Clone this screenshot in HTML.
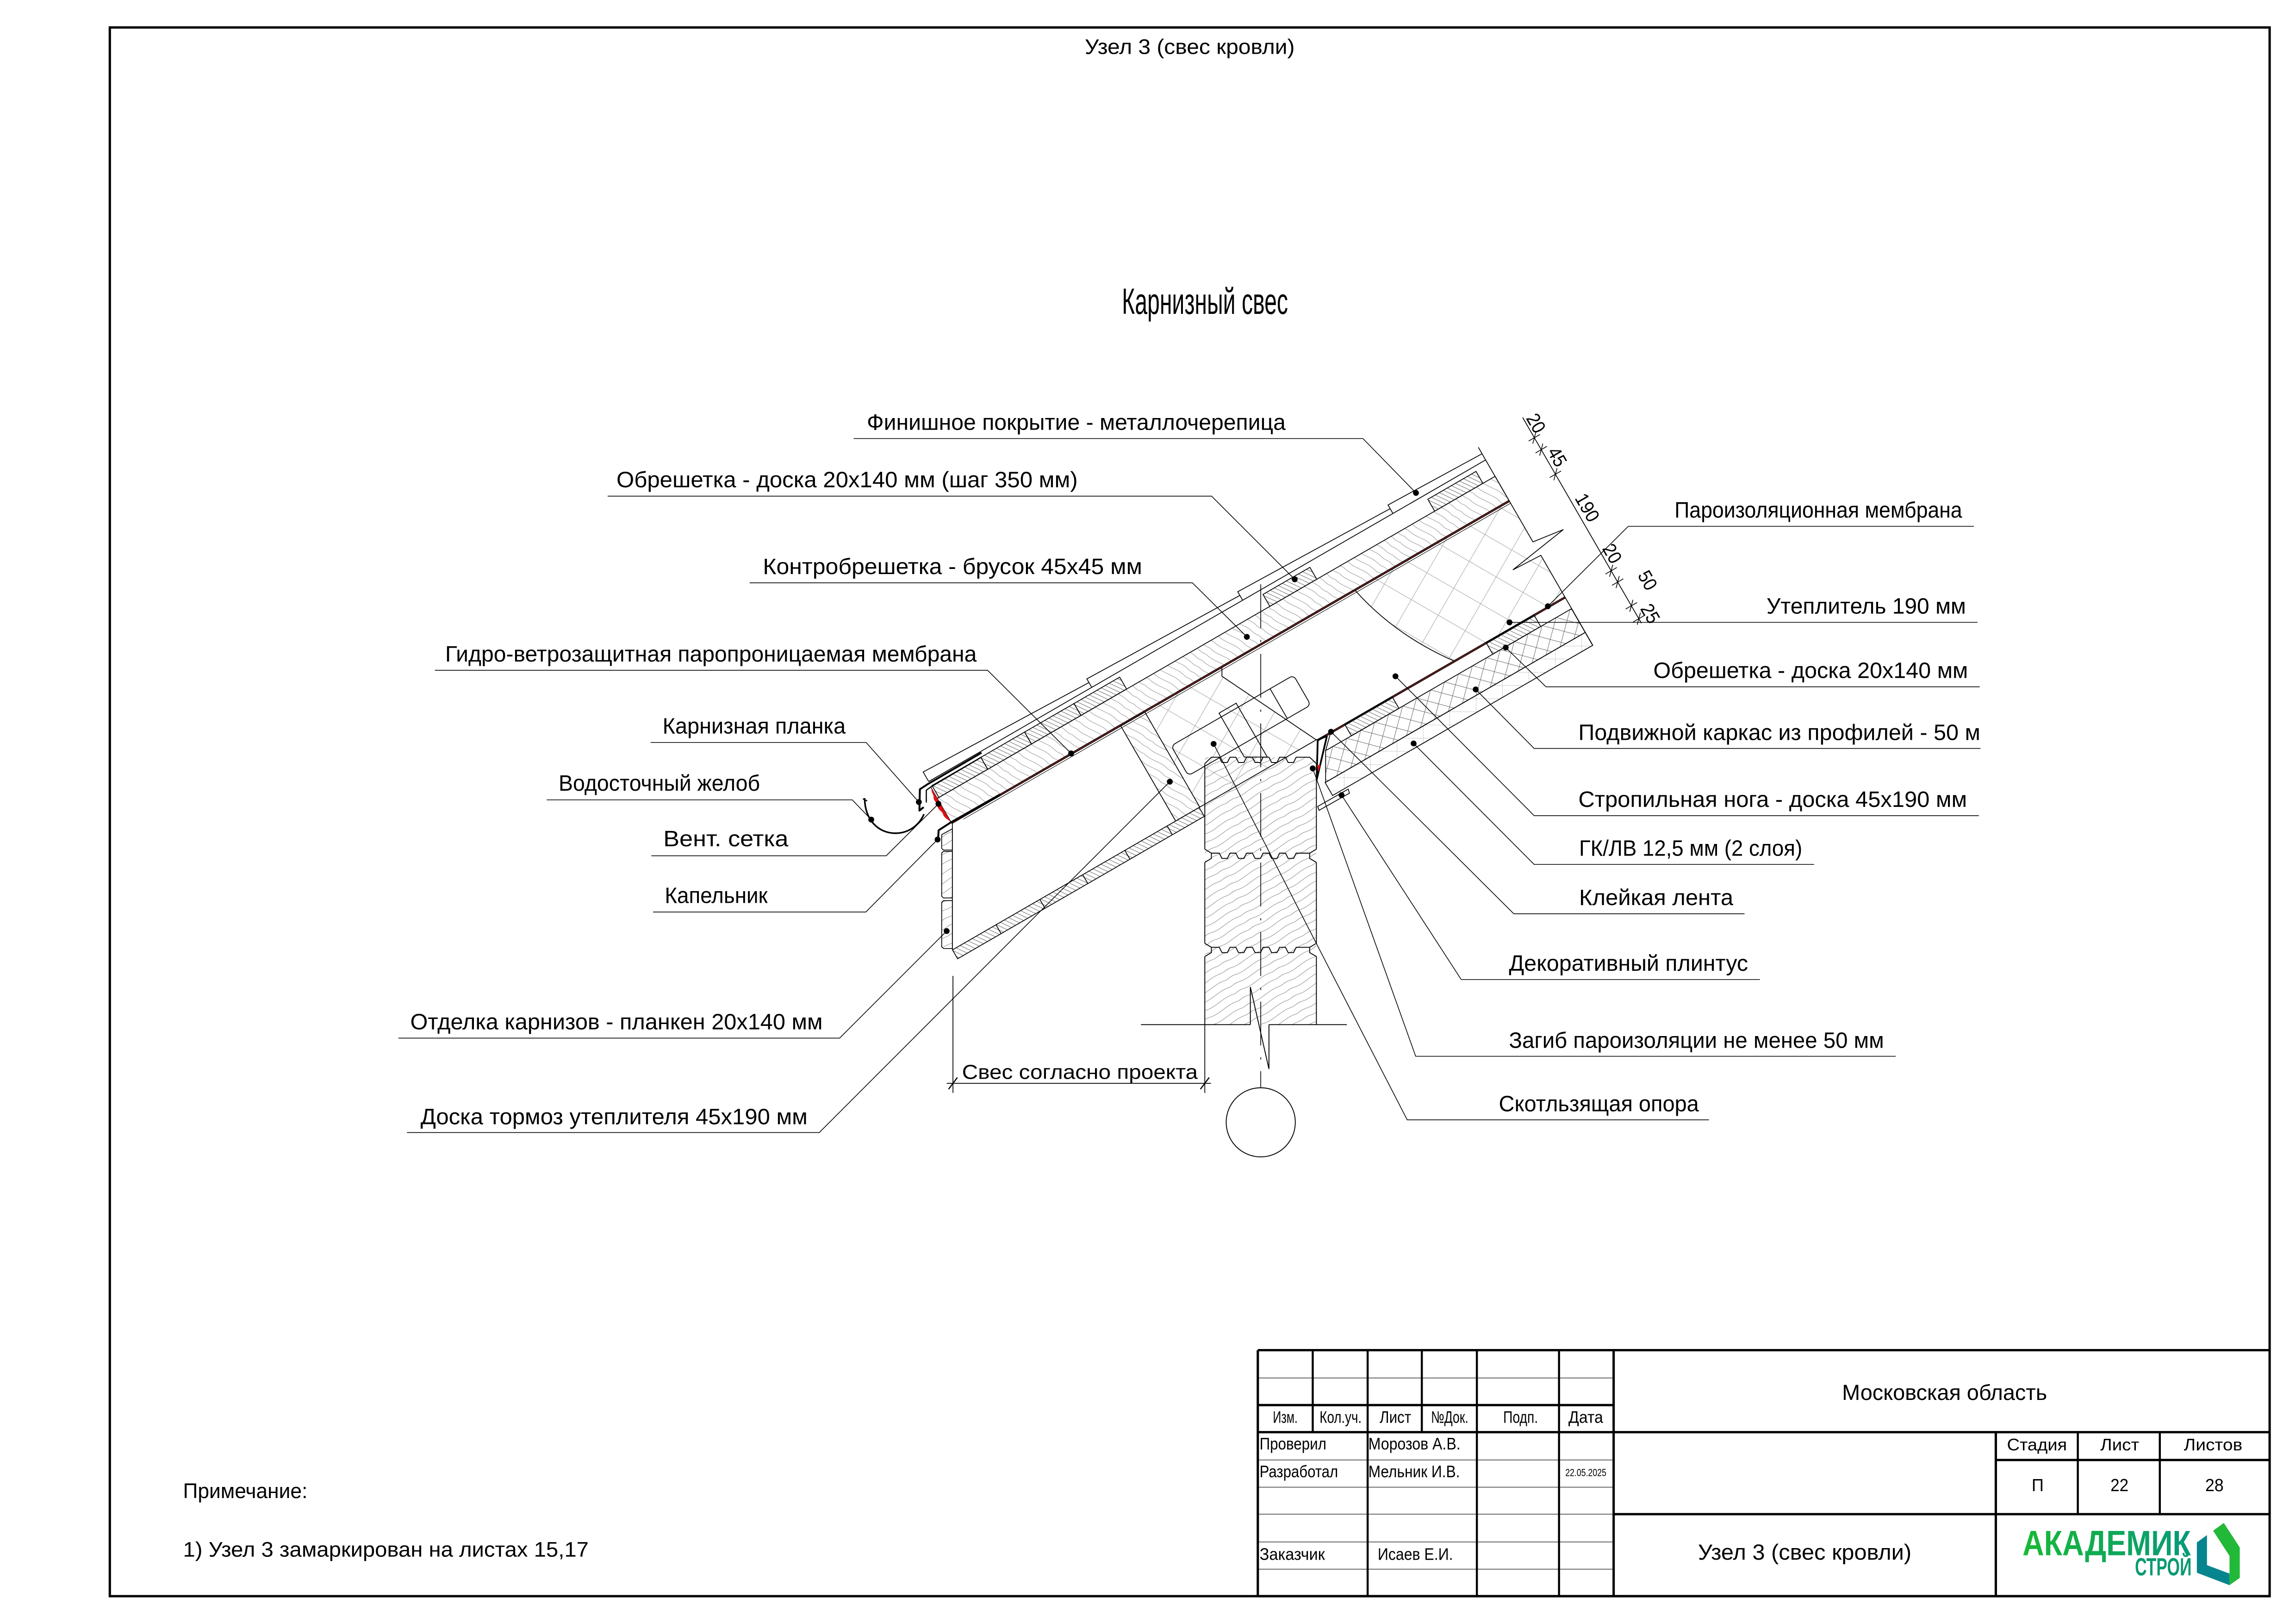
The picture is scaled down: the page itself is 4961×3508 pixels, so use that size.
<!DOCTYPE html>
<html><head><meta charset="utf-8">
<style>
html,body{margin:0;padding:0;background:#fff;}
svg{display:block;}
text{font-family:"Liberation Sans Narrow","Liberation Sans",sans-serif;fill:#000;}
</style></head><body>
<svg xmlns="http://www.w3.org/2000/svg" width="4961" height="3508" viewBox="0 0 1568 1109" preserveAspectRatio="none">
<defs>
<pattern id="ins" patternUnits="userSpaceOnUse" width="30" height="30" patternTransform="rotate(15)">
<path d="M0,0L30,30M30,0L0,30" stroke="#a6a6a6" stroke-width="0.35" fill="none"/>
</pattern>
<pattern id="frm" patternUnits="userSpaceOnUse" width="11" height="11">
<path d="M0,0L11,11M11,0L0,11" stroke="#555" stroke-width="0.3" fill="none"/>
</pattern>
<pattern id="gkl" patternUnits="userSpaceOnUse" width="18" height="9" patternTransform="rotate(30)">
<path d="M0,0H18M0,0V9" stroke="#9a9a9a" stroke-width="0.3" fill="none"/>
</pattern>
<pattern id="cb" patternUnits="userSpaceOnUse" width="5" height="24" patternTransform="rotate(-28)">
<path d="M2.5,0 C1,6 4,12 2.5,18 C1.6,21 3,23 2.5,24" stroke="#8a8a8a" stroke-width="0.3" fill="none"/>
</pattern>
<pattern id="lt" patternUnits="userSpaceOnUse" width="2.6" height="10" patternTransform="rotate(-35)">
<path d="M1.3,0V10" stroke="#555" stroke-width="0.3" fill="none"/>
</pattern>
<pattern id="wd" patternUnits="userSpaceOnUse" width="5.5" height="30" patternTransform="rotate(60)">
<path d="M2.7,0 C1,8 4.5,15 2.7,22 C1.8,26 3.2,28 2.7,30" stroke="#8c8c8c" stroke-width="0.33" fill="none"/>
</pattern>
<linearGradient id="lg" x1="0" x2="1" y1="0" y2="0">
<stop offset="0" stop-color="#18ba34"/><stop offset="1" stop-color="#07997a"/>
</linearGradient>
</defs>

<!-- Frame -->
<rect x="75" y="18.75" width="1475" height="1071.25" fill="none" stroke="#000" stroke-width="1.6"/>

<!-- Titles -->
<text x="740.8" y="36.9" font-size="14.5" textLength="143.4" lengthAdjust="spacingAndGlyphs">Узел 3 (свес кровли)</text>
<text x="766.2" y="214.4" font-size="25" textLength="113.4" lengthAdjust="spacingAndGlyphs">Карнизный свес</text>

<!-- ============ DRAWING ============ -->
<g transform="rotate(-30)">
<rect x="434" y="811.6" width="287.6" height="76.1" fill="url(#ins)" stroke="none"/>
</g>
<path d="M834.5,455.4 L925.3,403 Q953,434 993.3,451.5 L899,505.3 L834.5,461.8 Z" fill="#fff" stroke="none"/>
<path d="M925.3,403 Q953,434 993.3,451.5 M834.5,455.4 L834.5,461.8 L899,505.3" fill="none" stroke="#000" stroke-width="0.55"/>

<!-- wall logs -->
<rect x="822.8" y="517.1" width="76.2" height="182.6" fill="url(#wd)" stroke="none"/>
<g fill="none" stroke="#000" stroke-width="0.6">
<polyline points="822.8,521.5 827.3,517.1 832.7,517.1 834.5,520.7 838.2,520.7 840,517.1 844,517.1 845.8,520.7 849.5,520.7 851.3,517.1 855.3,517.1 857.1,520.7 860.8,520.7 862.6,517.1 866.6,517.1 868.4,520.7 872.1,520.7 873.9,517.1 877.9,517.1 879.7,520.7 883.4,520.7 885.2,517.1 894.4,517.1 899,521.5"/>
<polyline points="822.8,579.9 827.3,582.6 832.7,582.6 834.5,586.2 838.2,586.2 840,582.6 844,582.6 845.8,586.2 849.5,586.2 851.3,582.6 855.3,582.6 857.1,586.2 860.8,586.2 862.6,582.6 866.6,582.6 868.4,586.2 872.1,586.2 873.9,582.6 877.9,582.6 879.7,586.2 883.4,586.2 885.2,582.6 894.4,582.6 899,579.9"/>
<polyline points="822.8,588.9 827.3,586.2 827.3,582.6"/>
<polyline points="894.4,582.6 894.4,586.2 899,588.9"/>
<polyline points="822.8,644.2 827.3,646.9 832.7,646.9 834.5,650.5 838.2,650.5 840,646.9 844,646.9 845.8,650.5 849.5,650.5 851.3,646.9 855.3,646.9 857.1,650.5 860.8,650.5 862.6,646.9 866.6,646.9 868.4,650.5 872.1,650.5 873.9,646.9 877.9,646.9 879.7,650.5 883.4,650.5 885.2,646.9 894.4,646.9 899,644.2"/>
<polyline points="822.8,653.2 827.3,650.5 827.3,646.9"/>
<polyline points="894.4,646.9 894.4,650.5 899,653.2"/>
<path d="M822.8,521.5V579.9M822.8,588.9V644.2M822.8,653.2V699.7M899,521.5V579.9M899,588.9V644.2M899,653.2V699.7"/>
<path d="M779.2,699.7H853.9M866.6,699.7H919.8M853.9,674V699.7M853.9,674L866.6,730M866.6,699.7V730"/>
</g>

<!-- roof layers -->
<g transform="rotate(-30)" fill="none" stroke="#000" stroke-width="0.55">
<rect x="281.7" y="792.2" width="439.9" height="19.4" fill="url(#cb)"/>
<rect x="283" y="782.8" width="38.5" height="9.4" fill="url(#lt)"/>
<rect x="321.5" y="782.8" width="34.5" height="9.4" fill="url(#lt)"/>
<rect x="356" y="782.8" width="39" height="9.4" fill="url(#lt)"/>
<rect x="395" y="782.8" width="36" height="9.4" fill="url(#lt)"/>
<rect x="544" y="782.8" width="37" height="9.4" fill="url(#lt)"/>
<rect x="674" y="782.8" width="38" height="9.4" fill="url(#lt)"/>
<path d="M282.4,779.3H721.6M282.4,779.3V771.8L411,775.5M411,779.3V772.6L530,775.5M530,779.3V772.6L648.5,775.5M648.5,779.3V772.6L721.6,774.4"/>
<path d="M281.7,783.8V811.6"/>
<path d="M281.7,811.6H721.6" stroke="#000" stroke-width="1.5"/>
<path d="M281.7,811.6H721.6" stroke="#7a2323" stroke-width="0.6"/>
<path d="M290,813.4H721.6" stroke-width="0.35"/>
<path d="M433.5,887H526.6"/>
<rect x="239" y="887" width="194.5" height="7" fill="url(#lt)"/>
<path d="M273.3,887V894M307.9,887V894M341.7,887V894M374.9,887V894M408.3,887V894"/>
<rect x="415" y="812" width="19" height="75" fill="url(#cb)"/>
<path d="M526.6,887.7H721.6" stroke="#000" stroke-width="1.5"/>
<path d="M526.6,887.7H721.6" stroke="#7a2323" stroke-width="0.6"/>
<rect x="548" y="887.7" width="37.5" height="8.9" fill="url(#lt)"/>
<rect x="659.5" y="887.7" width="37.8" height="8.9" fill="url(#lt)"/>
<path d="M527.7,896.6H721.6V915.3H516.9Z" fill="url(#frm)"/>
<rect x="516.5" y="915.3" width="205.1" height="10.2" fill="url(#gkl)"/>
<rect x="438" y="841" width="96.5" height="23.5" rx="3"/>
<path d="M516,841V864.5"/>
<path d="M721.6,769.3V843.9L743.8,847L700.2,853.6L721.7,854.6V925.5"/>
<path d="M758,766.8V929"/>
<path d="M753.5,782.8H762.5M755,785.8L761,779.8M753.5,792.2H762.5M755,795.2L761,789.2M753.5,811.6H762.5M755,814.6L761,808.6M753.5,887.7H762.5M755,890.7L761,884.7M753.5,896.6H762.5M755,899.6L761,893.6M753.5,915.3H762.5M755,918.3L761,912.3M753.5,925.5H762.5M755,928.5L761,922.5" stroke-width="0.5"/>
</g>

<polygon points="832.5,487 844.2,480.2 865.5,517 849.8,517" fill="none" stroke="#000" stroke-width="0.55"/>

<g font-size="13">
<text transform="translate(1049,289) rotate(60)" text-anchor="middle" dominant-baseline="central" textLength="13" lengthAdjust="spacingAndGlyphs">20</text>
<text transform="translate(1063.5,312) rotate(60)" text-anchor="middle" dominant-baseline="central" textLength="13" lengthAdjust="spacingAndGlyphs">45</text>
<text transform="translate(1084,346.6) rotate(60)" text-anchor="middle" dominant-baseline="central" textLength="20" lengthAdjust="spacingAndGlyphs">190</text>
<text transform="translate(1101,378) rotate(60)" text-anchor="middle" dominant-baseline="central" textLength="13" lengthAdjust="spacingAndGlyphs">20</text>
<text transform="translate(1125.2,396.3) rotate(60)" text-anchor="middle" dominant-baseline="central" textLength="13" lengthAdjust="spacingAndGlyphs">50</text>
<text transform="translate(1127,419) rotate(60)" text-anchor="middle" dominant-baseline="central" textLength="13" lengthAdjust="spacingAndGlyphs">25</text>
</g>

<!-- fascia boards -->
<g stroke="#000" stroke-width="0.55" fill="url(#wd)">
<path d="M643.1,570 L650.4,566 L650.4,580.5 L644.3,580.5 L643.1,579.3 Z"/>
<path d="M643.1,582.5 L644.3,581.4 L650.4,581.4 L650.4,613.2 L644.3,613.2 L643.1,612 Z"/>
<path d="M643.1,616.3 L644.3,615 L650.4,615 L650.4,647.7 L644.3,647.7 L643.1,646.5 Z"/>
</g>
<path d="M650.4,561.7V648.7" stroke="#000" stroke-width="0.55" fill="none"/>

<!-- eave metal -->
<path d="M636.3,538.5 C635.6,541 637.8,542.5 637.6,544.5 C637.4,547 640.2,548 640.3,550.5 C640.4,553 643.6,554 644,556 C644.6,558.5 647.5,559.5 649.3,561.3 L636.3,538.5 Z" fill="#e01010" stroke="none"/>
<g fill="none" stroke="#000" stroke-linejoin="round">
<polyline points="670.3,514 633.2,535.7 628.2,539 627.9,553.5 630.8,551.2" stroke-width="1.3"/>
<polyline points="670.3,517 635.5,537.5 632.6,539.6 632.6,548" stroke-width="0.8"/>
<polyline points="683,542.5 649.5,561.5 641,567 640.6,574" stroke-width="1.3"/>
<path d="M590.5,545 C590.5,560 600,569 611.5,569 C621,569 628,563 631,556" stroke-width="1.1"/>
<path d="M589.3,545.5 L592.2,547" stroke-width="0.8"/>
</g>

<g fill="none" stroke="#000" stroke-width="1.2">
<path d="M899.9,505.3L899.2,532.5M906.2,502.6L899.2,532.5M899.9,505.3L906.2,502.6"/>
</g>
<path d="M905.3,512.6L908.5,501" stroke="#000" stroke-width="0.55" fill="none"/>
<polygon points="899.4,522.5 901.8,522.5 900.3,527" fill="#e01010"/>
<polygon points="899.9,550.7 920.7,538.9 921.6,541.6 900.8,553.4" fill="url(#wd)" stroke="#000" stroke-width="0.55"/>

<path d="M861,399V742.7" stroke="#000" stroke-width="0.5" stroke-dasharray="30 8 1.5 8" fill="none"/>
<circle cx="861" cy="766.4" r="23.6" fill="none" stroke="#000" stroke-width="0.6"/>

<g stroke="#000" stroke-width="0.55" fill="none">
<path d="M650.8,666.4V746.3M822.8,699.7V746.3M646.5,739.8H827"/>
<path d="M647.8,743.8L653.8,735.8M819.8,743.8L825.8,735.8" stroke-width="0.8"/>
</g>
<text x="657" y="736.8" font-size="13.7" textLength="161" lengthAdjust="spacingAndGlyphs">Свес согласно проекта</text>

<!-- ============ LEADERS & LABELS ============ -->
<g stroke="#000" stroke-width="0.5" fill="none">
<path d="M583,299.5H930.8L967,336.6"/>
<path d="M415,338.8H827.4L884.2,395.6"/>
<path d="M512,398H814.3L851.5,434.9"/>
<path d="M297,457.7H674.4L731.5,514.5"/>
<path d="M444.3,507H591.5L627.5,547.7"/>
<path d="M373.4,546.2H582L595,559.7"/>
<path d="M444.8,584.4H605.2L640.9,548.9"/>
<path d="M446,622.8H591.3L640.3,573.3"/>
<path d="M272.1,708.9H573.4L646.5,635.8"/>
<path d="M277.9,773.4H559.5L798.9,533.8"/>
<path d="M1348,359.4H1112L1057.1,414"/>
<path d="M1350.5,425H1030.9"/>
<path d="M1352,469H1055.8L1028.3,442.2"/>
<path d="M1352.5,511.1H1047.7L1007.8,470.8"/>
<path d="M1351.4,557H1047.7L953,461.8"/>
<path d="M1238.9,590.3H1047.7L965.4,507.7"/>
<path d="M1191.4,624H1033.8L909,499.7"/>
<path d="M1201.9,668.9H997.9L916.2,543"/>
<path d="M1294.6,721.3H966.8L896.5,524.7"/>
<path d="M1167.1,764.7H961L828.8,508"/>
</g>
<g fill="#000">
<circle cx="967" cy="336.6" r="2"/><circle cx="884.2" cy="395.6" r="2"/><circle cx="851.5" cy="434.9" r="2"/>
<circle cx="731.5" cy="514.5" r="2"/><circle cx="627.5" cy="547.7" r="2"/><circle cx="595" cy="559.7" r="2"/>
<circle cx="640.9" cy="548.9" r="2"/><circle cx="640.3" cy="573.3" r="2"/><circle cx="646.5" cy="635.8" r="2"/>
<circle cx="798.9" cy="533.8" r="2"/>
<circle cx="1057.1" cy="414" r="2"/><circle cx="1030.9" cy="425" r="2"/><circle cx="1028.3" cy="442.2" r="2"/>
<circle cx="1007.8" cy="470.8" r="2"/><circle cx="953" cy="461.8" r="2"/><circle cx="965.4" cy="507.7" r="2"/>
<circle cx="909" cy="499.7" r="2"/><circle cx="916.2" cy="543" r="2"/><circle cx="896.5" cy="524.7" r="2"/>
<circle cx="828.8" cy="508" r="2"/>
</g>
<g font-size="15.2">
<text x="592" y="293.5" textLength="286" lengthAdjust="spacingAndGlyphs">Финишное покрытие - металлочерепица</text>
<text x="421" y="332.8" textLength="315" lengthAdjust="spacingAndGlyphs">Обрешетка - доска 20х140 мм (шаг 350 мм)</text>
<text x="521" y="392" textLength="259" lengthAdjust="spacingAndGlyphs">Контробрешетка - брусок 45х45 мм</text>
<text x="304" y="451.7" textLength="363" lengthAdjust="spacingAndGlyphs">Гидро-ветрозащитная паропроницаемая мембрана</text>
<text x="452.5" y="500.9" textLength="125" lengthAdjust="spacingAndGlyphs">Карнизная планка</text>
<text x="381.5" y="540" textLength="137.5" lengthAdjust="spacingAndGlyphs">Водосточный желоб</text>
<text x="453" y="577.9" textLength="85.4" lengthAdjust="spacingAndGlyphs">Вент. сетка</text>
<text x="454" y="616.6" textLength="70.2" lengthAdjust="spacingAndGlyphs">Капельник</text>
<text x="280.2" y="702.9" textLength="281.6" lengthAdjust="spacingAndGlyphs">Отделка карнизов - планкен 20х140 мм</text>
<text x="287.2" y="767.8" textLength="264.3" lengthAdjust="spacingAndGlyphs">Доска тормоз утеплителя 45х190 мм</text>

<text x="1143.6" y="353.4" textLength="196.4" lengthAdjust="spacingAndGlyphs">Пароизоляционная мембрана</text>
<text x="1206.4" y="419" textLength="136.2" lengthAdjust="spacingAndGlyphs">Утеплитель 190 мм</text>
<text x="1129.1" y="463" textLength="214.9" lengthAdjust="spacingAndGlyphs">Обрешетка - доска 20х140 мм</text>
<text x="1077.9" y="505.3" textLength="274.5" lengthAdjust="spacingAndGlyphs">Подвижной каркас из профилей - 50 м</text>
<text x="1077.9" y="551" textLength="265.4" lengthAdjust="spacingAndGlyphs">Стропильная нога - доска 45х190 мм</text>
<text x="1078.4" y="584.3" textLength="152.4" lengthAdjust="spacingAndGlyphs">ГК/ЛВ 12,5 мм (2 слоя)</text>
<text x="1078.4" y="618" textLength="105.3" lengthAdjust="spacingAndGlyphs">Клейкая лента</text>
<text x="1030.5" y="663" textLength="163.3" lengthAdjust="spacingAndGlyphs">Декоративный плинтус</text>
<text x="1030.5" y="715.5" textLength="256.1" lengthAdjust="spacingAndGlyphs">Загиб пароизоляции не менее 50 мм</text>
<text x="1023.6" y="758.9" textLength="136.6" lengthAdjust="spacingAndGlyphs">Скотльзящая опора</text>
</g>

<text x="125" y="1023" font-size="14.5" textLength="85" lengthAdjust="spacingAndGlyphs">Примечание:</text>
<text x="125" y="1063" font-size="14.5" textLength="277" lengthAdjust="spacingAndGlyphs">1) Узел 3 замаркирован на листах 15,17</text>

<!-- ============ TITLE BLOCK ============ -->
<g stroke="#808080" stroke-width="0.75" fill="none">
<path d="M859,941H1102M859,997H1102M859,1015.6H1102M859,1034H1102M859,1053H1102M859,1071.6H1102"/>
</g>
<g stroke="#000" stroke-width="1.4" fill="none">
<path d="M896.5,922V978M971,922V978"/>
<path d="M934,922V1090M1008.6,922V1090M1064.7,922V1090"/>
<path d="M1419,978V1034M1475,978V1034"/>
</g>
<g stroke="#000" stroke-width="1.6" fill="none">
<path d="M859,922H1550M859,922V1090M1102,922V1090M859,959.5H1102M859,978H1550M1102,1034H1550M1363,997H1550M1363,978V1090M859,1090H1550"/>
</g>
<g font-size="11.5">
<text x="869.3" y="971.7" textLength="16.9" lengthAdjust="spacingAndGlyphs">Изм.</text>
<text x="901.2" y="971.7" textLength="28.7" lengthAdjust="spacingAndGlyphs">Кол.уч.</text>
<text x="942.2" y="971.7" textLength="21.5" lengthAdjust="spacingAndGlyphs">Лист</text>
<text x="977.3" y="971.7" textLength="25.5" lengthAdjust="spacingAndGlyphs">№Док.</text>
<text x="1026.6" y="971.7" textLength="23.7" lengthAdjust="spacingAndGlyphs">Подп.</text>
<text x="1071.1" y="971.7" textLength="23.7" lengthAdjust="spacingAndGlyphs">Дата</text>
<text x="860.2" y="989.8" textLength="45.6" lengthAdjust="spacingAndGlyphs">Проверил</text>
<text x="934.5" y="989.8" textLength="62.9" lengthAdjust="spacingAndGlyphs">Морозов А.В.</text>
<text x="860.2" y="1008.8" textLength="53.6" lengthAdjust="spacingAndGlyphs">Разработал</text>
<text x="934.5" y="1008.8" textLength="62.5" lengthAdjust="spacingAndGlyphs">Мельник И.В.</text>
<text x="860.2" y="1065.2" textLength="44.6" lengthAdjust="spacingAndGlyphs">Заказчик</text>
<text x="940.9" y="1065.2" textLength="51.4" lengthAdjust="spacingAndGlyphs">Исаев Е.И.</text>
<text x="1370.6" y="990.5" textLength="41" lengthAdjust="spacingAndGlyphs">Стадия</text>
<text x="1434.4" y="990.5" textLength="26.5" lengthAdjust="spacingAndGlyphs">Лист</text>
<text x="1491.4" y="990.5" textLength="40" lengthAdjust="spacingAndGlyphs">Листов</text>
</g>
<text x="1069" y="1008" font-size="7" textLength="28" lengthAdjust="spacingAndGlyphs">22.05.2025</text>
<g font-size="12">
<text x="1387.5" y="1018.3" textLength="8.2" lengthAdjust="spacingAndGlyphs">П</text>
<text x="1441.3" y="1018.3" textLength="12.3" lengthAdjust="spacingAndGlyphs">22</text>
<text x="1506" y="1018.3" textLength="12.6" lengthAdjust="spacingAndGlyphs">28</text>
</g>
<text x="1258" y="956" font-size="15" textLength="140" lengthAdjust="spacingAndGlyphs">Московская область</text>
<text x="1159.6" y="1065" font-size="15" textLength="145.8" lengthAdjust="spacingAndGlyphs">Узел 3 (свес кровли)</text>

<text x="1381.2" y="1062" font-size="24" font-weight="bold" font-family="'Liberation Sans',sans-serif" textLength="115" lengthAdjust="spacingAndGlyphs" style="fill:url(#lg)">АКАДЕМИК</text>
<text x="1458" y="1075.8" font-size="17" font-weight="bold" font-family="'Liberation Sans',sans-serif" textLength="38.7" lengthAdjust="spacingAndGlyphs" style="fill:#0a9a72">СТРОЙ</text>
<polygon points="1500.3,1053.3 1507.2,1048.3 1507.2,1068.8 1522.6,1074.6 1522.6,1082.5 1500.3,1074" fill="#06858e"/>
<polygon points="1511.4,1045.3 1518.7,1040 1529.6,1056.7 1529.6,1077.5 1522.6,1082.5 1522.6,1062.5" fill="#22b838"/>
</svg>
</body></html>
